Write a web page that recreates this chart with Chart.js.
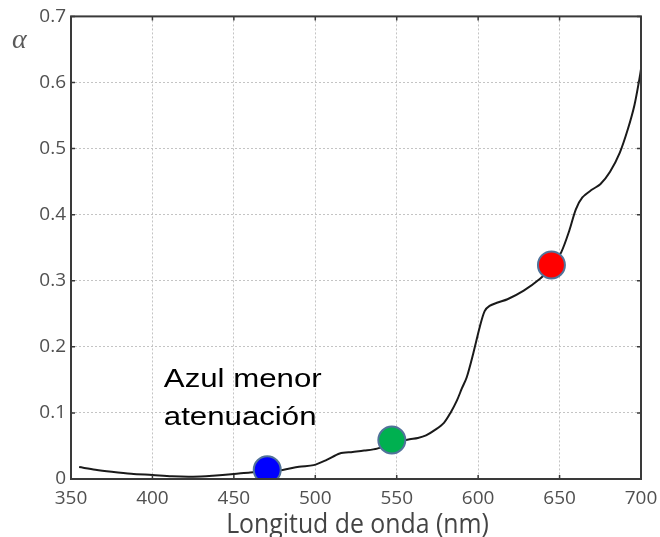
<!DOCTYPE html>
<html>
<head>
<meta charset="utf-8">
<script src="https://cdn.jsdelivr.net/npm/chart.js@4.4.1/dist/chart.umd.min.js"></script>
<style>
  html, body { margin: 0; padding: 0; background: #ffffff; }
  #wrap { width: 660px; height: 537px; }
</style>
</head>
<body>
<div id="wrap"><canvas id="c" width="660" height="537"></canvas></div>
<script>
// Attenuation coefficient of water versus wavelength
const wavelength = [355, 365, 375, 387, 400, 412, 425, 437, 450, 460, 470, 480, 490, 499, 507, 515, 523, 530, 538, 547, 552, 558, 563, 568, 574, 579, 583, 587, 590, 593, 597, 601, 604, 607, 612, 618, 628, 638, 645, 651, 656, 660, 664, 670, 675, 681, 687, 692, 696, 699, 700];
const alpha = [0.018, 0.014, 0.011, 0.008, 0.006, 0.004, 0.0035, 0.005, 0.0075, 0.010, 0.011, 0.0136, 0.0186, 0.021, 0.029, 0.0387, 0.041, 0.043, 0.046, 0.054, 0.057, 0.060, 0.062, 0.066, 0.075, 0.085, 0.100, 0.119, 0.137, 0.154, 0.190, 0.230, 0.254, 0.262, 0.267, 0.272, 0.285, 0.303, 0.320, 0.343, 0.376, 0.408, 0.426, 0.438, 0.446, 0.465, 0.494, 0.530, 0.566, 0.605, 0.620];

// Blue, green and red reference wavelengths
const markerWavelength = [470.5, 547, 645];
const markerAlpha = [0.014, 0.059, 0.324];
const markerColors = ['#0000ff', '#00b050', '#ff0000'];

const xTicks = [350, 400, 450, 500, 550, 600, 650, 700];
const yTicks = [0, 0.1, 0.2, 0.3, 0.4, 0.5, 0.6, 0.7];

const xTitle = 'Longitud de onda (nm)';
const yTitle = 'α';
const noteLines = ['Azul menor', 'atenuación'];
const noteAnchor = [407, 0.139];

const tickFont = { family: '"Open Sans", sans-serif', size: 19 };
const tickColor = '#505050';

// Box frame with inward tick marks, axis titles and the note text
const framePlugin = {
  id: 'frame',
  afterDraw(chart) {
    const { ctx, chartArea: a, scales: { x, y } } = chart;
    ctx.save();
    ctx.strokeStyle = '#3a3a3a';
    ctx.lineWidth = 1.5;
    xTicks.forEach(v => {
      const px = x.getPixelForValue(v);
      ctx.beginPath();
      ctx.moveTo(px, a.bottom); ctx.lineTo(px, a.bottom - 4);
      ctx.moveTo(px, a.top); ctx.lineTo(px, a.top + 4);
      ctx.stroke();
    });
    yTicks.forEach(v => {
      const py = y.getPixelForValue(v);
      ctx.beginPath();
      ctx.moveTo(a.left, py); ctx.lineTo(a.left + 4, py);
      ctx.moveTo(a.right, py); ctx.lineTo(a.right - 4, py);
      ctx.stroke();
    });
    ctx.lineWidth = 2;
    ctx.strokeRect(a.left, a.top, a.right - a.left, a.bottom - a.top);

    // α label at the top of the y axis
    ctx.fillStyle = '#5a5a5a';
    ctx.font = 'italic 28px "Liberation Serif", serif';
    ctx.textAlign = 'left';
    ctx.textBaseline = 'alphabetic';
    ctx.fillText(yTitle, a.left - 59, a.top + 32);

    // x axis title, slightly condensed
    ctx.fillStyle = '#444444';
    ctx.font = '27px "Open Sans", sans-serif';
    ctx.textAlign = 'center';
    ctx.save();
    ctx.translate((a.left + a.right) / 2 + 1.5, a.bottom + 54);
    ctx.scale(0.92, 1);
    ctx.fillText(xTitle, 0, 0);
    ctx.restore();

    // Note next to the blue marker
    ctx.fillStyle = '#000000';
    ctx.font = '26px "Liberation Sans", Arial, sans-serif';
    ctx.textAlign = 'left';
    const nx = x.getPixelForValue(noteAnchor[0]);
    const ny = y.getPixelForValue(noteAnchor[1]);
    noteLines.forEach((line, i) => {
      ctx.save();
      ctx.translate(nx, ny + i * 38);
      ctx.scale(1.2, 1);
      ctx.fillText(line, 0, 0);
      ctx.restore();
    });
    ctx.restore();
  }
};

function build() {
  new Chart(document.getElementById('c'), {
    type: 'scatter',
    data: {
      datasets: [
        {
          label: 'marcadores',
          data: markerWavelength.map((w, i) => ({ x: w, y: markerAlpha[i] })),
          pointRadius: 13.5,
          pointHoverRadius: 13.5,
          pointBackgroundColor: markerColors,
          pointBorderColor: '#51739a',
          pointBorderWidth: 2,
          showLine: false,
          order: 0
        },
        {
          label: 'α',
          data: wavelength.map((w, i) => ({ x: w, y: alpha[i] })),
          showLine: true,
          borderColor: '#1a1a1a',
          borderWidth: 2,
          pointRadius: 0,
          tension: 0.3,
          fill: false,
          order: 1
        }
      ]
    },
    options: {
      responsive: false,
      animation: false,
      devicePixelRatio: 1,
      layout: { padding: { top: 15, right: 19, left: 0, bottom: 0 } },
      plugins: { legend: { display: false }, tooltip: { enabled: false } },
      scales: {
        x: {
          type: 'linear',
          min: 350,
          max: 700,
          afterBuildTicks: s => { s.ticks = xTicks.map(v => ({ value: v })); },
          afterFit: s => { s.height = 58; s.paddingLeft = 0; s.paddingRight = 0; },
          grid: { color: '#c4c4c4', lineWidth: 1, drawTicks: false },
          border: { display: false, dash: [2, 2] },
          ticks: { font: tickFont, color: tickColor, padding: 8, maxRotation: 0, autoSkip: false }
        },
        y: {
          type: 'linear',
          min: 0,
          max: 0.7,
          afterBuildTicks: s => { s.ticks = yTicks.map(v => ({ value: v })); },
          afterFit: s => { s.width = 71; },
          grid: { color: '#c4c4c4', lineWidth: 1, drawTicks: false },
          border: { display: false, dash: [2, 2] },
          ticks: {
            font: tickFont,
            color: tickColor,
            padding: 5,
            autoSkip: false,
            callback: v => (v === 0 ? '0' : v.toFixed(1))
          }
        }
      }
    },
    plugins: [framePlugin]
  });
}

Promise.all([
  document.fonts.load('19px "Open Sans"'),
  document.fonts.load('27px "Open Sans"'),
  document.fonts.load('26px "Liberation Sans"'),
  document.fonts.load('italic 28px "Liberation Serif"')
]).then(build, build);
</script>
</body>
</html>
